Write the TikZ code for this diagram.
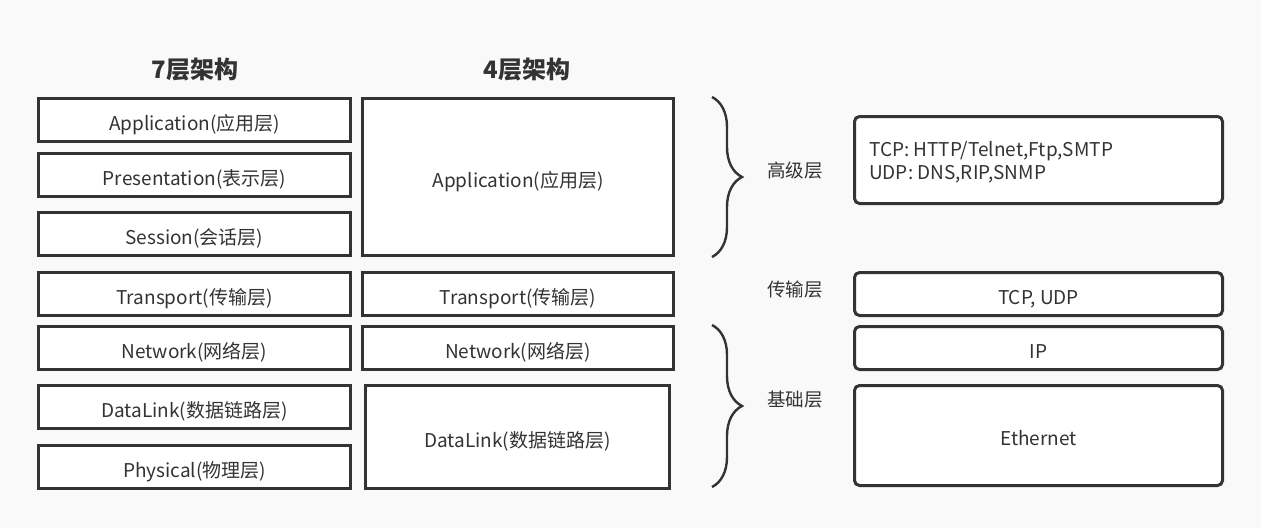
\documentclass[tikz,border=0pt]{standalone}
\usepackage{fontspec}
\setmainfont{Noto Sans CJK SC}
\usetikzlibrary{decorations.pathreplacing}

\definecolor{bgcol}{HTML}{F9F9F9}
\definecolor{linecol}{HTML}{333333}

\tikzset{
	layer/.style={draw=linecol, line width=3pt, fill=white, inner sep=0pt,
		text=linecol, font=\fontsize{19}{22}\selectfont, text height=20pt, text depth=0pt},
	proto/.style={layer, rounded corners=5pt},
	title/.style={text=linecol, font=\fontsize{24}{28}\selectfont\bfseries},
	side/.style={text=linecol, font=\fontsize{18.5}{22}\selectfont},
	bracket/.style={draw=linecol, line width=2.4pt,
		decorate, decoration={brace, amplitude=30pt}},
}

\begin{document}
\begin{tikzpicture}[x=1pt, y=-1pt]
		\fill[bgcol] (0,0) rectangle (1261,528);
		\useasboundingbox (0,0) rectangle (1261,528);
		% titles
		\node[title] (t7) at (195,70) {7层架构};
		\node[title] (t4) at (527,70) {4层架构};
		% 7 layers
		\node[layer, minimum width=312, minimum height=43] (sapp) at (194.5,120) {Application(应用层)};
		\node[layer, minimum width=312, minimum height=43] (spre) at (194.5,175) {Presentation(表示层)};
		\node[layer, minimum width=312, minimum height=43] (sses) at (194.5,234) {Session(会话层)};
		\node[layer, minimum width=312, minimum height=43] (stra) at (194.5,294) {Transport(传输层)};
		\node[layer, minimum width=312, minimum height=43] (snet) at (194.5,348) {Network(网络层)};
		\node[layer, minimum width=312, minimum height=43] (sdat) at (194.5,407) {DataLink(数据链路层)};
		\node[layer, minimum width=312, minimum height=43] (sphy) at (194.5,467) {Physical(物理层)};
		% 4 layers
		\node[layer, minimum width=311, minimum height=157] (fapp) at (518,177) {Application(应用层)};
		\node[layer, minimum width=311, minimum height=43] (ftra) at (518,294) {Transport(传输层)};
		\node[layer, minimum width=311, minimum height=43] (fnet) at (518,348) {Network(网络层)};
		\node[layer, minimum width=304, minimum height=103] (fdat) at (517.5,437) {DataLink(数据链路层)};
		% braces
		\coordinate (hitop) at (712,97);
		\coordinate (hibot) at (712,257);
		\coordinate (lotop) at (712,325);
		\coordinate (lobot) at (712,487);
		\draw[bracket] (hitop) -- (hibot);
		\draw[bracket] (lotop) -- (lobot);
		\node[side] (hi) at (795,171) {高级层};
		\node[side] (tr) at (795,290) {传输层};
		\node[side] (lo) at (795,400) {基础层};
		% protocols
		\node[proto, minimum width=368, minimum height=87] (papp) at (1038.5,160) {};
		\node[text=linecol, font=\fontsize{19}{23}\selectfont, align=left, anchor=west, inner sep=0pt] (ptxt) at (869,162)
			{TCP: HTTP/Telnet,Ftp,SMTP\\UDP: DNS,RIP,SNMP};
		\node[proto, minimum width=368, minimum height=43] (ptra) at (1038.5,294) {TCP, UDP};
		\node[proto, minimum width=368, minimum height=43] (pnet) at (1038.5,348) {IP};
		\node[proto, minimum width=368, minimum height=100] (peth) at (1038.5,435.5) {Ethernet};
	\end{tikzpicture}
\end{document}
